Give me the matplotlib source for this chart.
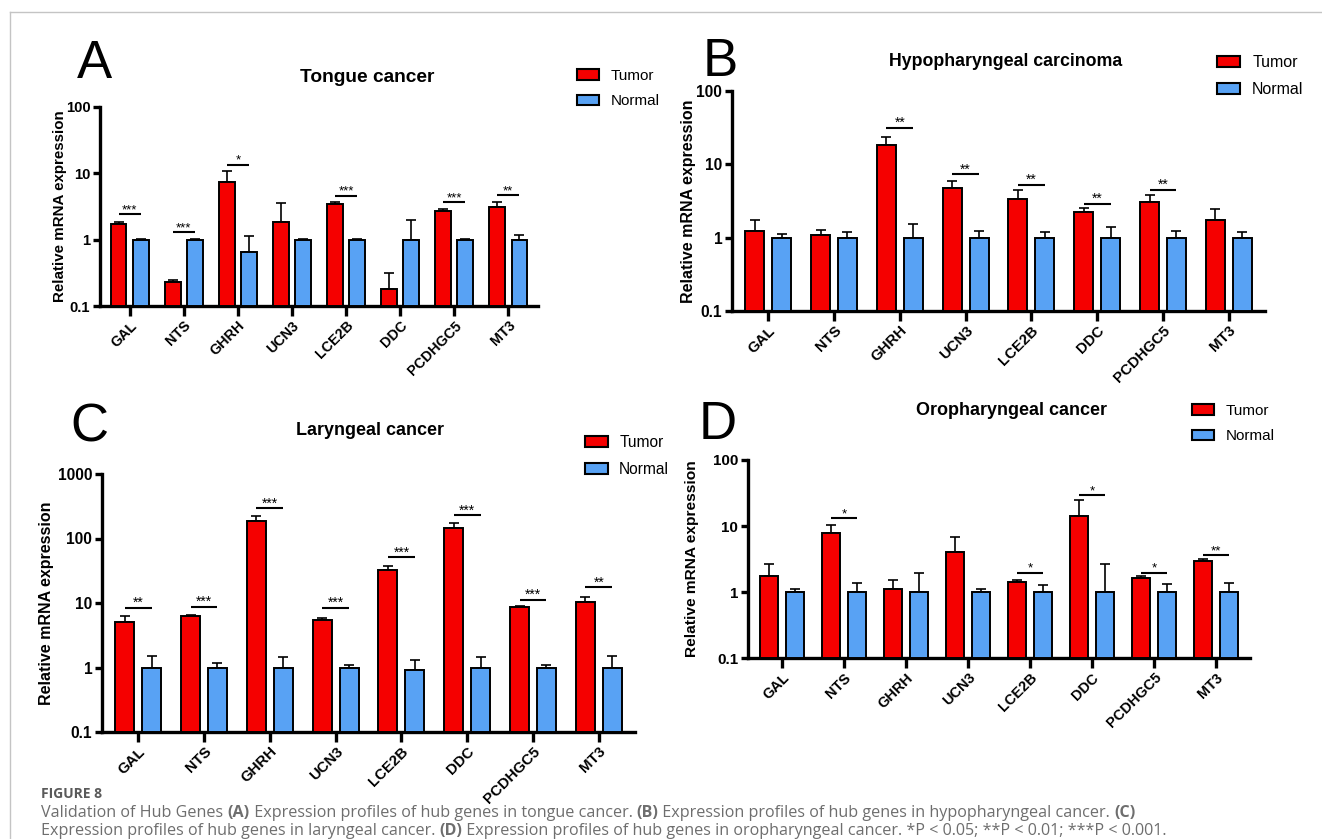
import numpy as np
import matplotlib.pyplot as plt
from matplotlib.patches import Patch
from matplotlib.ticker import FixedLocator, NullLocator
from matplotlib.lines import Line2D

W, H = 1322, 839
RED = '#f50000'
BLUE = '#58a2f4'
FONT = ['Liberation Sans', 'DejaVu Sans']
LETTER_FONT = ['Liberation Sans Narrow', 'Liberation Sans', 'DejaVu Sans']

genes = ['GAL', 'NTS', 'GHRH', 'UCN3', 'LCE2B', 'DDC', 'PCDHGC5', 'MT3']

# A - tongue cancer
tongue_tumor = [1.75, 0.23, 7.3, 1.85, 3.45, 0.18, 2.75, 3.1]
tongue_tumor_top = [1.83, 0.245, 11.0, 3.6, 3.7, 0.31, 2.9, 3.75]
tongue_normal = [1.0, 1.0, 0.65, 1.0, 1.0, 1.0, 1.0, 1.0]
tongue_normal_top = [1.02, 1.03, 1.12, 1.03, 1.02, 2.0, 1.03, 1.18]
tongue_stars = ['***', '***', '*', '', '***', '', '***', '**']
tongue_star_y = [2.4, 1.3, 13.5, 0, 4.6, 0, 3.7, 4.7]

# B - hypopharyngeal carcinoma
hypo_tumor = [1.25, 1.09, 18.2, 4.7, 3.4, 2.26, 3.06, 1.75]
hypo_tumor_top = [1.74, 1.27, 23.3, 5.9, 4.45, 2.5, 3.8, 2.45]
hypo_normal = [1.0, 1.0, 1.0, 1.0, 1.0, 1.0, 1.0, 1.0]
hypo_normal_top = [1.13, 1.21, 1.55, 1.22, 1.19, 1.41, 1.22, 1.19]
hypo_stars = ['', '', '**', '**', '**', '**', '**', '']
hypo_star_y = [0, 0, 31.6, 7.3, 5.3, 2.9, 4.5, 0]

# C - laryngeal cancer
laryn_tumor = [5.1, 6.3, 186, 5.5, 33, 147, 8.7, 10.2]
laryn_tumor_top = [6.2, 6.6, 221, 5.8, 38, 175, 9.1, 12.6]
laryn_normal = [1.0, 1.0, 1.0, 1.0, 0.9, 1.0, 1.0, 1.0]
laryn_normal_top = [1.5, 1.17, 1.45, 1.11, 1.3, 1.47, 1.08, 1.5]
laryn_stars = ['**', '***', '***', '***', '***', '***', '***', '**']
laryn_star_y = [8.4, 8.7, 294, 8.4, 51, 229, 11.3, 17.5]

# D - oropharyngeal cancer
oro_tumor = [1.75, 7.8, 1.11, 4.0, 1.44, 14.2, 1.63, 2.95]
oro_tumor_top = [2.62, 10.5, 1.54, 6.7, 1.5, 25, 1.75, 3.2]
oro_normal = [1.0, 1.0, 1.0, 1.0, 1.0, 1.0, 1.0, 1.0]
oro_normal_top = [1.12, 1.35, 1.92, 1.1, 1.26, 2.65, 1.32, 1.37]
oro_stars = ['', '*', '', '', '*', '*', '*', '**']
oro_star_y = [0, 13, 0, 0, 1.96, 29, 1.96, 3.63]


def fx(px):
    return px / W


def fy(py):
    return 1 - py / H


fig = plt.figure(figsize=(W / 100, H / 100), dpi=100)
plt.rcParams['font.family'] = FONT


def panel(box, title, letter, ymax, tumor, tumor_top, normal, normal_top,
          stars, star_y, s, title_size, leg_size, ylab_x, title_xy, letter_xy, leg_xy):
    left, right, top, bottom = box
    ax = fig.add_axes([fx(left), fy(bottom), fx(right - left), (bottom - top) / H])
    x = np.arange(len(genes))
    w, off = 0.29, 0.205
    tumor = np.array(tumor)
    normal = np.array(normal)
    ax.bar(x - off, tumor - 0.1, bottom=0.1, width=w, color=RED,
           edgecolor='black', linewidth=1.4, zorder=3)
    ax.bar(x + off, normal - 0.1, bottom=0.1, width=w, color=BLUE,
           edgecolor='black', linewidth=1.4, zorder=3)
    z = np.zeros(len(genes))
    ax.errorbar(x - off, tumor, yerr=[z, np.array(tumor_top) - tumor], fmt='none',
                ecolor='black', elinewidth=1.2, capsize=3.5, capthick=1.2, zorder=2)
    ax.errorbar(x + off, normal, yerr=[z, np.array(normal_top) - normal], fmt='none',
                ecolor='black', elinewidth=1.2, capsize=3.5, capthick=1.2, zorder=2)
    for i, (st, yy) in enumerate(zip(stars, star_y)):
        if not st:
            continue
        ax.plot([i - off, i + off], [yy, yy], color='black', lw=1.5,
                solid_capstyle='butt', clip_on=False)
        ax.annotate(st, (i, yy), xytext=(0, -1.5), textcoords='offset points',
                    ha='center', va='bottom', fontsize=10 * s, annotation_clip=False)

    ax.set_yscale('log')
    ax.set_ylim(0.1, ymax)
    ax.set_xlim(-0.55, 7.55)
    decades = [0.1, 1, 10, 100, 1000]
    decades = [d for d in decades if d <= ymax]
    ax.yaxis.set_major_locator(FixedLocator(decades))
    ax.yaxis.set_minor_locator(NullLocator())
    ax.set_yticklabels([('%g' % d) for d in decades], fontweight='bold', fontsize=11.2 * s)
    ax.set_xticks(x)
    ax.set_xticklabels(genes, rotation=45, ha='right', va='top',
                       rotation_mode='anchor', fontweight='bold', fontsize=10.8 * s)
    for sp in ['top', 'right']:
        ax.spines[sp].set_visible(False)
    for sp in ['left', 'bottom']:
        ax.spines[sp].set_linewidth(2.4)
    ax.tick_params(axis='y', length=5, width=2.4, pad=2)
    ax.tick_params(axis='x', length=7, width=2.4, pad=2)
    ax.set_ylabel('Relative mRNA expression', fontweight='bold', fontsize=11.5 * s)
    ax.yaxis.set_label_coords((ylab_x - left) / (right - left), 0.5)
    ax.patch.set_visible(False)

    fig.text(fx(title_xy[0]), fy(title_xy[1]), title, ha='center', va='center',
             fontweight='bold', fontsize=title_size)
    fig.text(fx(letter_xy[0]), fy(letter_xy[1]), letter, ha='center', va='center',
             fontsize=38, family=LETTER_FONT)
    handles = [Patch(facecolor=RED, edgecolor='black', linewidth=1.5, label='Tumor'),
               Patch(facecolor=BLUE, edgecolor='black', linewidth=1.5, label='Normal')]
    ax.legend(handles=handles, loc='upper left', frameon=False,
              bbox_to_anchor=(fx(leg_xy[0]), fy(leg_xy[1])), bbox_transform=fig.transFigure,
              fontsize=leg_size, borderpad=0, borderaxespad=0, handlelength=1.45,
              handleheight=0.7, handletextpad=0.75, labelspacing=0.75)
    return ax


panel((100, 538, 107, 306), 'Tongue cancer', 'A', 100,
      tongue_tumor, tongue_tumor_top, tongue_normal, tongue_normal_top,
      tongue_stars, tongue_star_y, 0.95, 13.8, 11, 67, (367, 77), (94, 64), (577, 69))
panel((732, 1265, 91, 311), 'Hypopharyngeal carcinoma', 'B', 100,
      hypo_tumor, hypo_tumor_top, hypo_normal, hypo_normal_top,
      hypo_stars, hypo_star_y, 1.0, 12.8, 11.5, 696, (1006, 61), (720, 62), (1217, 55))
panel((102, 635, 474, 732), 'Laryngeal cancer', 'C', 1000,
      laryn_tumor, laryn_tumor_top, laryn_normal, laryn_normal_top,
      laryn_stars, laryn_star_y, 1.0, 13.0, 11.2, 54, (370, 430), (89, 427), (585, 435))
panel((748, 1250, 460, 658), 'Oropharyngeal cancer', 'D', 100,
      oro_tumor, oro_tumor_top, oro_normal, oro_normal_top,
      oro_stars, oro_star_y, 0.97, 13.0, 11, 699, (1012, 410), (718, 425), (1192, 404))

# frame lines
fig.add_artist(Line2D([fx(9.5), 1], [fy(12), fy(12)], color='#c4c4c4', lw=1))
fig.add_artist(Line2D([fx(9.5), fx(9.5)], [fy(12), 0], color='#c4c4c4', lw=1))

# caption
GREY = '#6e6e6e'
CAP = ['Open Sans', 'DejaVu Sans']
fig.text(fx(41), fy(794), 'FIGURE 8', fontsize=10, fontweight='bold', color='#5a5a5a',
         family=CAP, va='center')
renderer = fig.canvas.get_renderer()


def rich(xpx, ypx, parts, size=11.6):
    for txt, bold in parts:
        t = fig.text(fx(xpx), fy(ypx), txt, fontsize=size, color=GREY, family=CAP,
                     fontweight='bold' if bold else 'normal', va='baseline')
        xpx += t.get_window_extent(renderer).width


rich(41, 817, [('Validation of Hub Genes ', False), ('(A)', True),
               (' Expression profiles of hub genes in tongue cancer. ', False), ('(B)', True),
               (' Expression profiles of hub genes in hypopharyngeal cancer. ', False),
               ('(C)', True)])
rich(41, 835, [('Expression profiles of hub genes in laryngeal cancer. ', False), ('(D)', True),
               (' Expression profiles of hub genes in oropharyngeal cancer. '
                '*P < 0.05; **P < 0.01; ***P < 0.001.', False)])

fig.savefig('out.png', dpi=100)
